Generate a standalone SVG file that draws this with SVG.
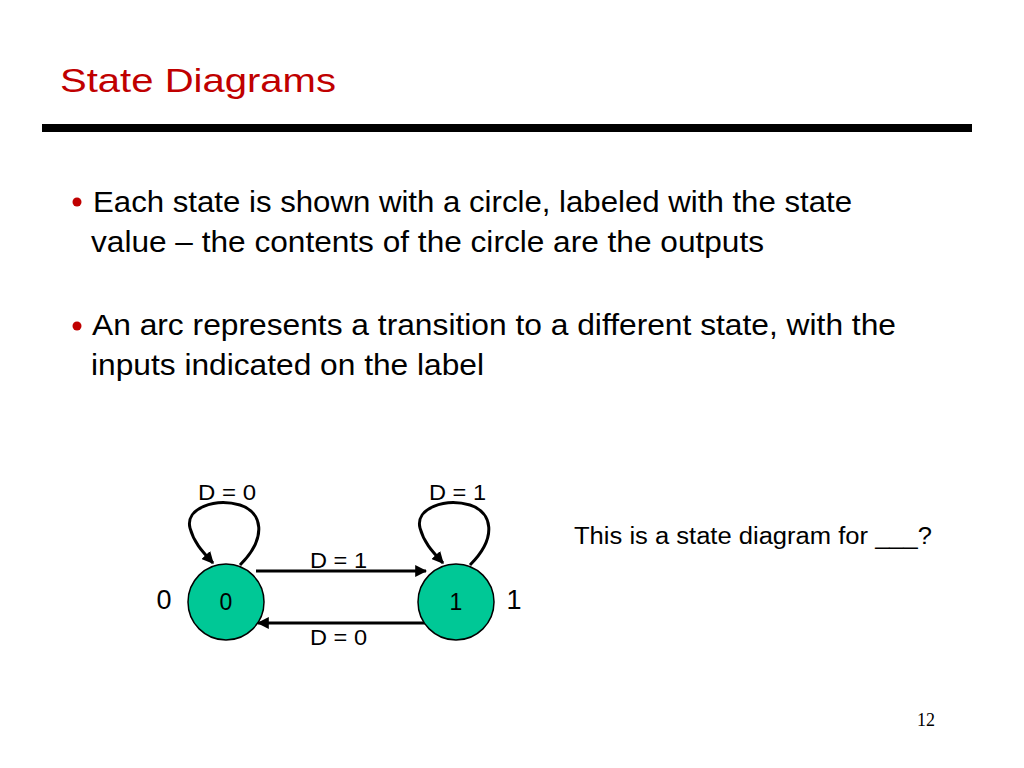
<svg xmlns="http://www.w3.org/2000/svg" width="1024" height="768" viewBox="0 0 1024 768">
<style>
.t{font-family:"Liberation Sans","Open Sans",sans-serif;fill:#000}
.title{font-family:"Liberation Sans",sans-serif;fill:#C00000;font-size:34px}
.body{font-size:29px}
.lbl{font-size:22px}
.state{fill:#00C896;stroke:#000;stroke-width:1.5}
.edge{fill:none;stroke:#000;stroke-width:3;marker-end:url(#ah)}
</style>
<defs>
<marker id="ah" viewBox="0 0 10 10" refX="9" refY="5" markerWidth="4" markerHeight="4" orient="auto" markerUnits="strokeWidth">
<path d="M0,0 L10,5 L0,10 z" fill="#000"/>
</marker>
</defs>
<rect width="1024" height="768" fill="#fff"/>
<text class="title" x="60" y="92" textLength="276" lengthAdjust="spacingAndGlyphs">State Diagrams</text>
<rect x="42" y="124" width="930" height="8" fill="#000"/>
<circle cx="77" cy="202" r="4.5" fill="#C00000"/>
<text class="t body" x="93" y="212" textLength="759" lengthAdjust="spacingAndGlyphs">Each state is shown with a circle, labeled with the state</text>
<text class="t body" x="91" y="252" textLength="673" lengthAdjust="spacingAndGlyphs">value – the contents of the circle are the outputs</text>
<circle cx="77" cy="326" r="4.5" fill="#C00000"/>
<text class="t body" x="92" y="335" textLength="804" lengthAdjust="spacingAndGlyphs">An arc represents a transition to a different state, with the</text>
<text class="t body" x="91" y="375" textLength="393" lengthAdjust="spacingAndGlyphs">inputs indicated on the label</text>
<g id="connectors">
<path class="edge" d="M240,565 C268,537 262,512 240,505 C215,498 185,508 190,528 C194,543 203,552 213,563"/>
<path class="edge" d="M470,565 C498,537 492,512 470,505 C445,498 415,508 420,528 C424,543 433,552 443,563"/>
<path class="edge" d="M256,571 L426,571"/>
<path class="edge" d="M427,623 L258,623"/>
</g>
<g id="state0">
<circle class="state" cx="226" cy="602" r="38"/>
<text class="t" x="226" y="610" font-size="23" text-anchor="middle">0</text>
<text class="t" x="164" y="609" font-size="27" text-anchor="middle">0</text>
</g>
<g id="state1">
<circle class="state" cx="456" cy="602" r="38"/>
<text class="t" x="456" y="610" font-size="23" text-anchor="middle">1</text>
<text class="t" x="514" y="609" font-size="27" text-anchor="middle">1</text>
</g>
<text class="t lbl" x="198" y="500" textLength="58" lengthAdjust="spacingAndGlyphs">D = 0</text>
<text class="t lbl" x="429" y="500" textLength="57" lengthAdjust="spacingAndGlyphs">D = 1</text>
<text class="t lbl" x="310" y="568" textLength="57" lengthAdjust="spacingAndGlyphs">D = 1</text>
<text class="t lbl" x="310" y="645" textLength="57" lengthAdjust="spacingAndGlyphs">D = 0</text>
<text class="t" x="574" y="544" font-size="23" textLength="358" lengthAdjust="spacingAndGlyphs">This is a state diagram for ___?</text>
<text x="917" y="726" font-family="Liberation Serif,serif" font-size="18" fill="#000">12</text>
</svg>
